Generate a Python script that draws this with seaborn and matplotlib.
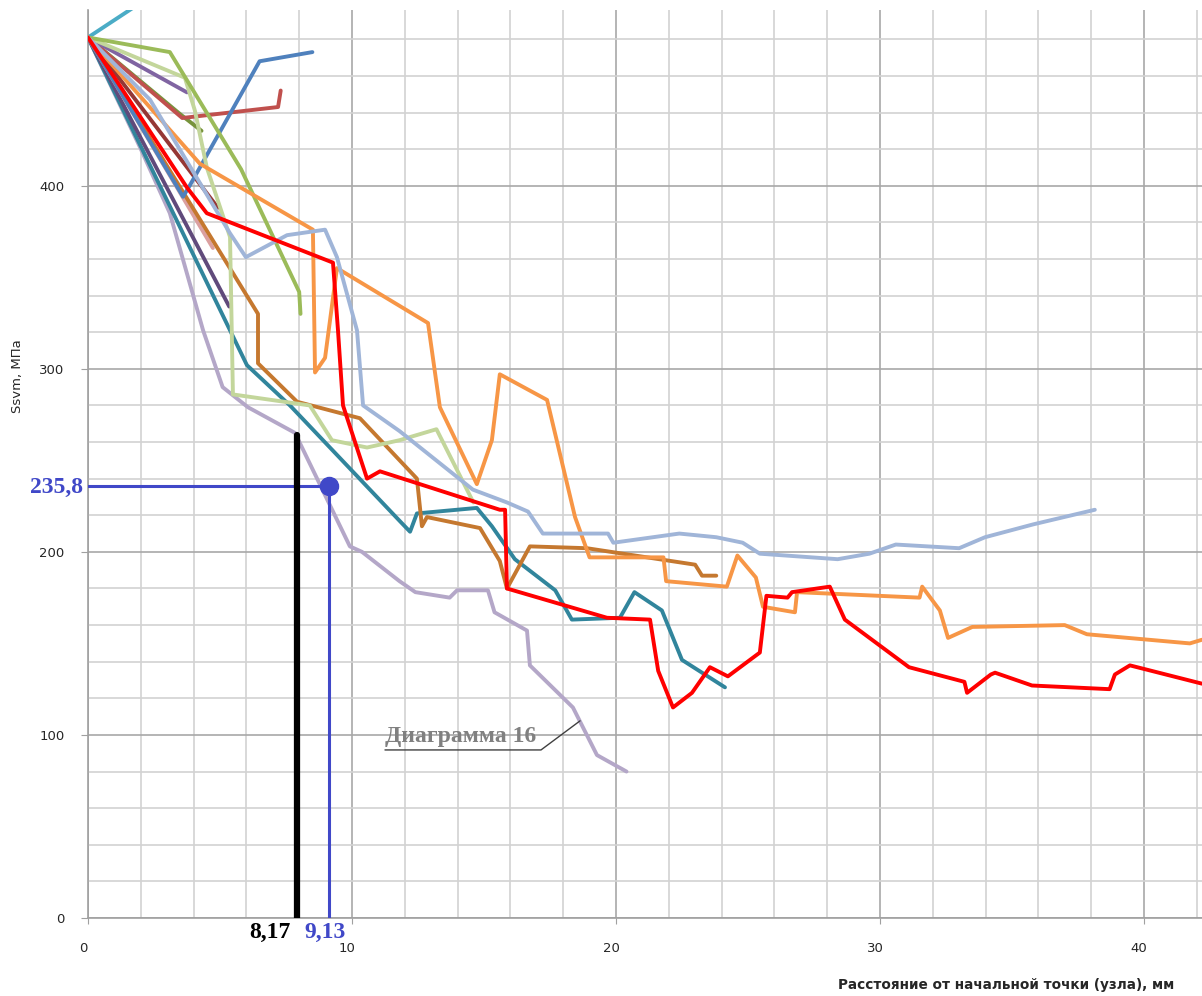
import numpy as np
import pandas as pd
import seaborn as sns
import matplotlib.pyplot as plt
from matplotlib.ticker import MultipleLocator
from matplotlib.transforms import ScaledTranslation

# curves: distance (mm), Ssvm (MPa)
cyan_x = [0, 2.0]
cyan_y = [481, 500]
green_x = [0, 3.1, 5.8, 8.0, 8.05]
green_y = [481, 473, 409, 342, 330]
lgreen_x = [0, 3.67, 4.05, 4.5, 5.38, 5.49, 8.4, 9.24, 10.57, 11.8, 13.2, 14.6]
lgreen_y = [481, 459, 441, 410, 372, 286, 280, 261, 257, 261, 267, 227]
blue_x = [0, 3.6, 3.85, 6.5, 8.5]
blue_y = [481, 394, 400, 468, 473]
dred_x = [0, 3.57, 7.2, 7.3]
dred_y = [481, 437, 443, 452]
dgreen_x = [0, 3.5, 4.3]
dgreen_y = [481, 439, 430]
purple_x = [0, 3.75]
purple_y = [481, 451]
dpurple_x = [0, 5.35]
dpurple_y = [481, 334]
maroon_x = [0, 4.92]
maroon_y = [481, 388]
pink_x = [0, 4.73]
pink_y = [481, 366]
orange_x = [0, 4.24, 8.52, 8.6, 8.98, 9.43, 12.88, 13.33, 14.73, 15.3, 15.6, 17.39,
            18.45, 19.0, 21.8, 21.9, 24.2, 24.6, 25.3, 25.57, 26.78, 26.86, 31.5,
            31.6, 32.27, 32.58, 33.5, 37.0, 37.84, 41.74, 42.2]
orange_y = [481, 412, 376, 298, 306, 355, 325, 279, 237, 261, 297, 283,
            219, 197, 197, 184, 181, 198, 186, 170, 167, 178, 175,
            181, 168, 153, 159, 160, 155, 150, 152]
lblue_x = [0, 2.35, 5.38, 5.98, 7.54, 8.98, 9.43, 10.19, 10.42, 11.8, 14.58, 15.87,
           16.67, 17.23, 19.7, 19.9, 22.4, 23.8, 24.8, 25.45, 28.4, 29.6, 30.6,
           33.0, 33.98, 35.8, 38.14]
lblue_y = [481, 447, 374, 361, 373, 376, 361, 321, 280, 266, 234, 227,
           222, 210, 210, 205, 210, 208, 205, 199, 196, 199, 204,
           202, 208, 215, 223]
red_x = [0, 3.75, 4.5, 9.28, 9.47, 9.66, 10.57, 11.06, 15.6, 15.8, 15.87, 19.66,
         21.29, 21.6, 22.16, 22.88, 23.56, 24.24, 25.45, 25.7, 26.5, 26.67, 28.1,
         28.67, 31.1, 33.2, 33.3, 34.2, 34.36, 35.76, 38.7, 38.9, 39.47, 42.2]
red_y = [481, 399, 385, 358, 321, 280, 240, 244, 223, 223, 180, 164,
         163, 135, 115, 123, 137, 132, 145, 176, 175, 178, 181,
         163, 137, 129, 123, 133, 134, 127, 125, 133, 138, 128]
teal_x = [0, 6.02, 7.65, 11.8, 12.2, 12.46, 14.73, 15.3, 16.17, 17.7, 18.33,
          20.15, 20.7, 21.74, 22.5, 24.13]
teal_y = [481, 302, 280, 217, 211, 221, 224, 214, 196, 179, 163,
          164, 178, 168, 141, 126]
lav_x = [0, 1.97, 3.1, 4.36, 5.1, 6.06, 7.84, 9.92, 10.38, 11.8, 12.4, 13.7,
         13.98, 15.15, 15.4, 16.63, 16.74, 18.37, 19.28, 20.4]
lav_y = [481, 421, 385, 321, 290, 279, 265, 203, 200, 184, 178, 175,
         179, 179, 167, 157, 138, 115, 89, 80]
brown_x = [0, 6.44, 6.44, 7.92, 10.3, 12.46, 12.65, 12.84, 14.85, 15.6, 15.87,
           16.74, 18.9, 23.0, 23.26, 23.8]
brown_y = [481, 330, 303, 282, 273, 240, 214, 219, 213, 195, 180,
           203, 202, 193, 187, 187]

curves = [
    (cyan_x, cyan_y, "#4bacc6"),
    (lav_x, lav_y, "#b4a7c8"),
    (teal_x, teal_y, "#31859c"),
    (dpurple_x, dpurple_y, "#604a7b"),
    (pink_x, pink_y, "#dba0a0"),
    (maroon_x, maroon_y, "#953735"),
    (brown_x, brown_y, "#c5782f"),
    (dgreen_x, dgreen_y, "#77933c"),
    (dred_x, dred_y, "#c0504d"),
    (purple_x, purple_y, "#8064a2"),
    (blue_x, blue_y, "#4f81bd"),
    (lgreen_x, lgreen_y, "#c3d69b"),
    (green_x, green_y, "#9bbb59"),
    (orange_x, orange_y, "#f79646"),
    (lblue_x, lblue_y, "#a0b5d8"),
    (red_x, red_y, "#ff0000"),
]

# marked point
pt_x, pt_y = 9.13, 235.8
black_x, black_top = 7.92, 264

sns.set_style("white")
plt.rcParams['font.family'] = ['DejaVu Sans']

fig = plt.figure(figsize=(12.02, 9.96), dpi=100)
ax = fig.add_axes([88/1202, 78/996, 1114/1202, 908/996])

for xs, ys, c in curves:
    d = pd.DataFrame({'x': xs, 'y': ys})
    sns.lineplot(data=d, x='x', y='y', sort=False, estimator=None, color=c,
                 linewidth=2.8, ax=ax, zorder=3)

# guide lines to the point
ax.plot([0, pt_x], [pt_y, pt_y], color="#4048c8", lw=2.2, zorder=4)
ax.plot([pt_x, pt_x], [0, pt_y], color="#4048c8", lw=2.2, zorder=4)
ax.plot([pt_x], [pt_y], 'o', color="#4048c8", ms=13, zorder=5)
ax.plot([black_x, black_x], [0, black_top], color="black", lw=4.5, zorder=4,
        solid_capstyle='round')

ax.set_xlim(0, 42.2)
ax.set_ylim(0, 496)
ax.xaxis.set_major_locator(MultipleLocator(10))
ax.xaxis.set_minor_locator(MultipleLocator(2))
ax.yaxis.set_major_locator(MultipleLocator(100))
ax.yaxis.set_minor_locator(MultipleLocator(20))
ax.grid(which='minor', color='#d2d2d2', lw=1.2, zorder=0)
ax.grid(which='major', color='#a8a8a8', lw=1.2, zorder=0)
ax.set_axisbelow(True)
for s in ['top', 'right']:
    ax.spines[s].set_visible(False)
for s in ['left', 'bottom']:
    ax.spines[s].set_color('#a0a0a0')
    ax.spines[s].set_linewidth(1.2)
ax.tick_params(axis='y', which='major', left=True, length=5, color='#a0a0a0',
               pad=12, labelsize=9.5)
ax.tick_params(axis='x', which='major', bottom=True, length=4, color='#a0a0a0',
               pad=13, labelsize=9.5)
ax.tick_params(which='minor', length=0)
for lbl in ax.get_xticklabels():
    lbl.set_transform(lbl.get_transform() + ScaledTranslation(-0.05, 0, fig.dpi_scale_trans))
ax.set_xlabel('')
ax.set_ylabel('')

fig.text(18/1202, 1 - 376/996, 'Ssvm, МПа', rotation=90, ha='center', va='center',
         fontsize=9.5)
fig.text(1006/1202, 1 - 985/996, 'Расстояние от начальной точки (узла), мм',
         ha='center', va='center', fontsize=9.8, fontweight='bold')

serif = ['Liberation Serif', 'DejaVu Serif']
fig.text(83/1202, 1 - 487/996, '235,8', ha='right', va='center', color="#4048c8",
         fontsize=17, fontweight='bold', family=serif)
fig.text(291/1202, 1 - 932/996, '8,17', ha='right', va='center', color='black',
         fontsize=17, fontweight='bold', family=serif)
fig.text(304/1202, 1 - 932/996, '9,13', ha='left', va='center', color="#4048c8",
         fontsize=17, fontweight='bold', family=serif)

# callout label
ax.text(11.25, 93.3, 'Диаграмма 16', ha='left', va='bottom', color='#808080',
        fontsize=17, fontweight='bold', family=serif, zorder=6)
ax.plot([11.25, 17.16, 18.64], [91.8, 91.8, 107.7], color='#404040', lw=1, zorder=6)

fig.savefig('out.png', dpi=100)
